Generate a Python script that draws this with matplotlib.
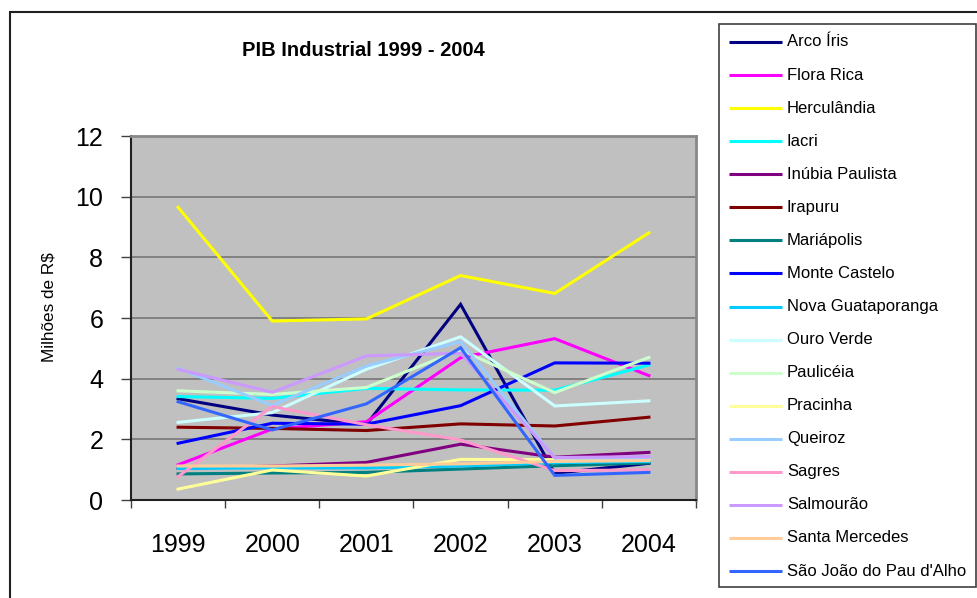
import matplotlib.pyplot as plt
from matplotlib.patches import Rectangle

plt.rcParams['font.family'] = ['Liberation Sans', 'DejaVu Sans']

anos = ['1999', '2000', '2001', '2002', '2003', '2004']

# PIB industrial por município, em milhões de R$
arco_iris = [3.34, 2.80, 2.49, 6.45, 0.88, 1.21]
flora_rica = [1.16, 2.34, 2.58, 4.69, 5.32, 4.10]
herculandia = [9.65, 5.90, 5.97, 7.40, 6.81, 8.81]
iacri = [3.41, 3.35, 3.68, 3.63, 3.62, 4.45]
inubia_paulista = [1.04, 1.12, 1.24, 1.84, 1.41, 1.57]
irapuru = [2.40, 2.36, 2.29, 2.51, 2.44, 2.73]
mariapolis = [0.86, 0.89, 0.91, 1.02, 1.13, 1.22]
monte_castelo = [1.87, 2.53, 2.50, 3.11, 4.52, 4.51]
nova_guataporanga = [1.04, 1.06, 1.06, 1.12, 1.23, 1.27]
ouro_verde = [2.56, 2.88, 4.31, 5.38, 3.10, 3.27]
pauliceia = [3.60, 3.48, 3.71, 4.95, 3.54, 4.70]
pracinha = [0.36, 0.99, 0.79, 1.34, 1.33, 1.34]
queiroz = [4.34, 3.12, 4.42, 5.22, 1.38, 1.38]
sagres = [0.77, 3.08, 2.48, 1.98, 0.97, 0.99]
salmourao = [4.31, 3.55, 4.75, 4.84, 1.40, 1.43]
santa_mercedes = [1.12, 1.12, 1.15, 1.19, 1.27, 1.30]
sao_joao = [3.24, 2.31, 3.17, 5.02, 0.81, 0.91]

series = [
    ('Arco Íris', arco_iris, '#000080'),
    ('Flora Rica', flora_rica, '#FF00FF'),
    ('Herculândia', herculandia, '#FFFF00'),
    ('Iacri', iacri, '#00FFFF'),
    ('Inúbia Paulista', inubia_paulista, '#800080'),
    ('Irapuru', irapuru, '#800000'),
    ('Mariápolis', mariapolis, '#008080'),
    ('Monte Castelo', monte_castelo, '#0000FF'),
    ('Nova Guataporanga', nova_guataporanga, '#00CCFF'),
    ('Ouro Verde', ouro_verde, '#CCFFFF'),
    ('Paulicéia', pauliceia, '#CCFFCC'),
    ('Pracinha', pracinha, '#FFFF99'),
    ('Queiroz', queiroz, '#99CCFF'),
    ('Sagres', sagres, '#FF99CC'),
    ('Salmourão', salmourao, '#CC99FF'),
    ('Santa Mercedes', santa_mercedes, '#FFCC99'),
    ("São João do Pau d'Alho", sao_joao, '#3366FF'),
]

W, H = 978, 598
fig = plt.figure(figsize=(W / 100, H / 100), dpi=100)

# moldura externa
fig.patches.append(Rectangle((10 / W, -0.05), 1.1, 1 - 12 / H + 0.05,
                             transform=fig.transFigure, fill=False,
                             edgecolor='#202020', linewidth=1.5))

ax = fig.add_axes([131 / W, 98 / H, 565 / W, 364 / H])
ax.set_facecolor('#C0C0C0')

x = list(range(len(anos)))
for nome, valores, cor in series:
    ax.plot(x, valores, color=cor, linewidth=2.2, solid_joinstyle='miter')

ax.set_xlim(-0.5, len(anos) - 0.5)
ax.set_ylim(0, 12)
ax.set_yticks(range(0, 13, 2))
ax.yaxis.grid(True, color='#707070', linewidth=1.1)
ax.set_axisbelow(True)

# ticks nas divisas das categorias, rótulos centralizados
ax.set_xticks([i - 0.5 for i in range(len(anos) + 1)])
ax.set_xticklabels([])
ax.set_xticks(x, minor=True)
ax.set_xticklabels(anos, minor=True, fontsize=18)
ax.tick_params(axis='x', which='major', length=6, width=1, color='#404040', direction='out')
ax.tick_params(axis='x', which='minor', length=0, pad=24)
ax.tick_params(axis='y', labelsize=18, length=7, width=1, color='#404040', pad=13)

for lado in ['top', 'right']:
    ax.spines[lado].set_color('#888888')
    ax.spines[lado].set_linewidth(2)
for lado in ['left', 'bottom']:
    ax.spines[lado].set_color('#202020')
    ax.spines[lado].set_linewidth(1.5)

fig.text(363 / W, 1 - 50 / H, 'PIB Industrial 1999 - 2004', ha='center', va='center',
         fontsize=14.5, fontweight='bold')
fig.text(49 / W, 1 - 307 / H, 'Milhões de R$', ha='center', va='center',
         rotation=90, fontsize=12.3)

# legenda
lax = fig.add_axes([719 / W, 11 / H, 257 / W, 563 / H])
lax.set_xlim(719, 976)
lax.set_ylim(587, 24)
lax.axis('off')
lax.add_patch(Rectangle((719, 24), 257, 563, fill=False, edgecolor='#404040',
                        linewidth=1.2, clip_on=False))
passo = (571 - 42) / (len(series) - 1)
for i, (nome, valores, cor) in enumerate(series):
    yy = 42 + i * passo
    lax.plot([729, 782], [yy, yy], color=cor, linewidth=2.2, solid_capstyle='butt')
    lax.text(787, yy, nome, va='center', ha='left', fontsize=12)

fig.savefig('out.png', dpi=100)
